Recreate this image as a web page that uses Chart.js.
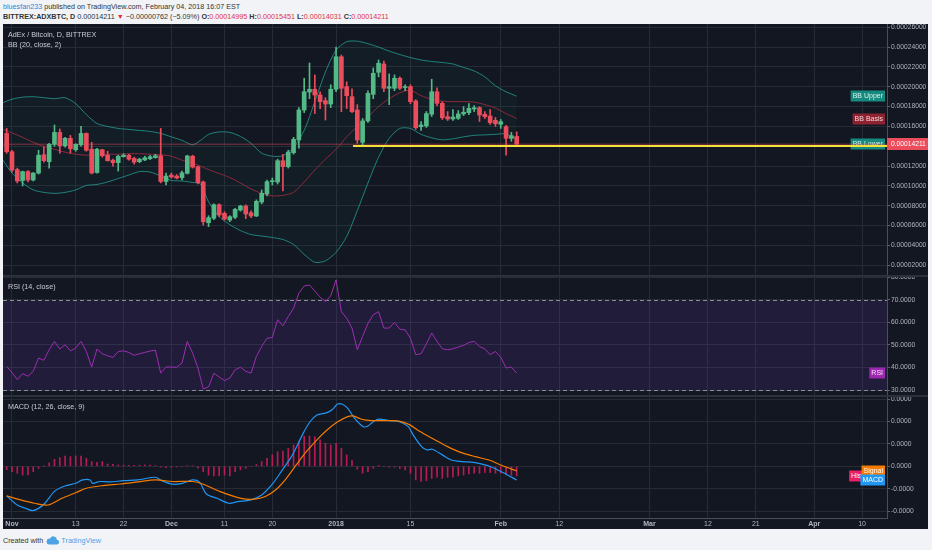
<!DOCTYPE html>
<html>
<head>
<meta charset="utf-8">
<script src="https://cdn.jsdelivr.net/npm/chart.js"></script>
<style>
  html, body { margin: 0; padding: 0; width: 932px; height: 550px; overflow: hidden; background: #f1f3f6;
    font-family: "Liberation Sans", Arial, sans-serif; }
  .hdr { position: absolute; left: 3px; font-size: 7.2px; color: #333; white-space: nowrap; line-height: 9px; }
  .hdr .user { color: #2f86d6; }
  .hdr .dn { color: #e0313f; }
  #panel { position: absolute; left: 3px; top: 24px; width: 925px; height: 505px; background: #131722; overflow: hidden; }
  #panel canvas { position: absolute; left: 0; }
  .legend { position: absolute; left: 5px; font-size: 7.2px; color: #c9ccd4; white-space: nowrap; line-height: 9px; }
  .sep { position: absolute; left: 0; width: 925px; height: 2px; background: #2c303b; }
  #footer { position: absolute; left: 3px; top: 536px; font-size: 7.2px; color: #333; white-space: nowrap; line-height: 9px; }
  #footer .tv { color: #4ba3e6; }
  #footer svg { vertical-align: -2px; margin: 0 2px 0 3px; }
</style>
</head>
<body>
<div class="hdr" style="top:2px"><span class="user">bluesfan233</span> published on TradingView.com, February 04, 2018 16:07 EST</div>
<div class="hdr" style="top:12px"><b>BITTREX:ADXBTC, D</b> 0.00014211 <span class="dn">&#9660;</span> &minus;0.00000762 (&minus;5.09%) <b>O:</b><span class="dn">0.00014995</span> <b>H:</b><span class="dn">0.00015451</span> <b>L:</b><span class="dn">0.00014031</span> <b>C:</b><span class="dn">0.00014211</span></div>

<div id="panel">
  <canvas id="mainChart" width="925" height="252" style="top:0"></canvas>
  <canvas id="rsiChart" width="925" height="120" style="top:252px"></canvas>
  <canvas id="macdChart" width="925" height="133" style="top:372px"></canvas>
  <div class="sep" style="top:251px"></div>
  <div class="sep" style="top:371px"></div>
  <div class="legend" style="top:6px">AdEx / Bitcoin, D, BITTREX</div>
  <div class="legend" style="top:16px">BB (20, close, 2)</div>
  <div class="legend" style="top:258px">RSI (14, close)</div>
  <div class="legend" style="top:378px">MACD (12, 26, close, 9)</div>
</div>

<div id="footer">Created with<svg width="13" height="9" viewBox="0 0 13 9"><path d="M3 8.5h7.5a2.4 2.4 0 0 0 .3-4.8A3.4 3.4 0 0 0 4.2 2.6 2.9 2.9 0 0 0 3 8.5z" fill="#4ba3e6"/></svg><span class="tv">TradingView</span></div>

<script>
// day index 0 = Nov 1, 2017; the first candle is Oct 31
const firstDay = -1;

// daily candles, in satoshi (1e-8 BTC)
const openSat = [15300,13450,11650,10550,11450,10600,11300,13150,12450,14200,
  15400,14050,14800,13650,14150,15300,13700,11350,13650,13100,
  12600,12350,12950,13100,12780,12450,12620,12750,12850,13050,
  10450,11100,11000,10830,11270,13000,11940,10400,6290,6740,
  8110,7240,6560,6840,7570,7980,7300,6970,8380,9190,
  10430,10400,12550,11940,13350,14630,17660,19470,19750,19170,
  18600,18260,19750,23030,20010,19000,17660,14400,16550,19240,
  21460,22300,19850,19850,20860,19920,20010,18570,15970,16050,
  17230,19500,18330,16990,16750,16820,17260,17390,17760,17890,
  17230,17050,16620,16220,15970,14800,14995];
const highSat = [15800,13600,11800,11500,11550,11350,13600,13950,14300,16150,
  15750,14900,15100,14250,16000,15350,14400,13800,13700,13500,
  12700,13100,13250,13200,12900,12800,13000,13100,13200,15800,
  11300,11300,11150,11500,13100,13100,12000,10500,7000,8200,
  8200,7400,7000,7750,8050,8100,7500,8600,9600,10600,
  10800,12700,13200,13600,14900,17900,20860,22400,21200,19500,
  18900,20200,24000,23200,20500,19800,18200,16800,19600,21900,
  22700,22600,21300,21200,21000,20200,20200,18700,16500,17500,
  20760,19900,18500,17500,17700,17600,18000,18300,18100,18000,
  17500,17700,16900,16700,16100,15400,15451];
const lowSat = [13300,11400,10300,10000,10400,10500,11200,12400,11800,14000,
  13300,13900,13300,13500,14000,13500,11200,11300,12900,12500,
  12000,11500,12900,12600,12200,12350,12550,12650,12800,10300,
  10100,10800,10700,10600,11200,11800,10200,6060,5900,6600,
  6900,6550,6400,6700,7450,6700,6800,6900,8200,9000,
  10100,10200,9500,11800,13200,13800,17400,18800,17300,17800,
  16650,17900,19500,17490,17800,17400,14300,14000,16400,18800,
  21000,19500,18200,19600,19700,19600,18300,15700,15600,15900,
  17000,18100,16700,16600,16600,16700,17100,17200,17500,16500,
  16800,16200,16000,15800,13100,14500,14031];
const closeSat = [13450,11600,10500,11450,10600,11300,13100,12550,14200,15400,
  14050,14800,13750,14200,15300,13600,11300,13700,13050,12550,
  12350,13000,13100,12700,12400,12700,12850,12950,13050,10450,
  11000,10900,10800,11330,13020,11900,10330,6390,6800,8110,
  7070,6670,6900,7640,7980,7170,6970,8450,9260,10430,
  10500,12550,11950,13420,14700,17660,19500,19750,19170,18500,
  18260,19750,23030,19850,19100,17490,14630,16550,19340,21360,
  22370,19850,20010,20860,19850,20010,18500,15870,16150,17290,
  19500,18330,16880,16750,16950,17260,17430,17830,17890,17150,
  16980,16380,16280,16480,14800,15070,14211];

// Bollinger Bands (20, close, 2), satoshi
const bbDays = [-1.7,0,2,4,6,8,10,12,14,16,18,20,22,24,26,28,30,32,34,35.5,
  37,39,41,43,45,47,49,51,53,55,57,59,61,63,65,67,69,71,73,75,
  77,79,81,83,85,87,89,91,93,95];
const bbUpper = [18400,18750,18950,19000,18900,18800,18900,18300,17200,16300,
  16000,15800,15700,15600,15500,15300,14950,14600,14150,14600,
  15200,15450,15400,15000,14300,13300,13000,13050,13900,15600,
  18500,21500,23700,24550,24600,24350,24000,23600,23250,22950,
  22700,22550,22450,22300,21950,21600,21000,20100,19500,19050];
const bbBasis = [15700,15350,14900,14400,14000,13700,13400,13200,13100,13150,
  13200,13200,13250,13250,13200,13150,13000,12600,12300,12000,
  11650,11250,10850,10300,9700,9250,9000,9050,9350,10400,
  11600,12700,13700,14950,16000,16950,18000,18800,19400,19650,
  19100,18750,18550,18500,18500,18450,18200,17850,17300,16800];
const bbLower = [12600,11300,10300,9600,9350,9250,9350,9600,10050,10150,
  10400,10750,11100,11450,11400,11000,10550,10500,10350,10200,
  8400,6900,6100,5500,5100,4950,4800,4600,4100,3100,
  2300,2450,3300,4900,7500,10300,12900,14800,15800,15800,
  15200,14850,14650,14750,14950,15100,15150,15200,15250,14650];

// user drawn horizontal line
const trendStartDay = 64.2;
const trendPrice = 14030;

// RSI (14, close), one value per candle
const rsiValues = [40.5,37.8,34.6,37.3,36.1,38.3,44.2,43.2,47.9,51.6,
  48.2,50.1,47.4,48.6,51.6,47.1,40.2,48.2,46.1,45.2,
  44.5,47.1,47.4,46.7,45.4,46.1,46.7,47.3,47.7,37.5,
  40.2,40.2,40.1,42.0,51.6,46.4,39.8,30.5,31.4,37.5,
  35.8,34.2,35.3,39.0,40.1,38.3,37.5,44.9,49.3,53.0,
  53.3,61.2,58.5,62.6,66.3,73.0,76.2,76.6,74.0,71.2,
  69.3,71.8,78.9,64.8,61.9,57.5,47.9,53.8,59.6,63.4,
  64.8,57.5,57.5,60.0,57.0,56.7,53.0,45.7,46.1,50.5,
  55.3,51.6,48.3,47.9,48.3,49.1,49.8,51.1,51.6,49.3,
  48.3,45.7,47.1,44.6,39.8,40.2,37.5];
const rsiUpper = 70;
const rsiLower = 30;

// MACD (12, 26, close, 9) in units of 1e-5 BTC
const macdUnit = 1e-5;
const macdDays = [-1,1,2.6,3.9,5,6.2,8.1,10,12,13.3,14.7,15.2,16.5,18.5,21,23.7,27,28.2,30.2,32.1,
  34,35.3,36.6,38.6,40.8,42.5,45,47,49,50.9,52.8,54.8,56.1,57.4,59.3,60.3,61.3,62.2,63.2,64.5,
  66.1,67,68,69,71,72.9,74.6,75.5,77.1,78.1,79.1,81,82.7,84.6,86.5,88.5,90.4,92.4,95];
const macdValues = [-1.32,-1.73,-1.88,-1.98,-1.88,-1.65,-1.10,-0.88,-0.76,-0.61,-0.61,-0.76,-0.68,-0.70,-0.64,-0.61,-0.49,-0.64,-0.80,-0.76,
  -0.61,-0.71,-1.24,-1.43,-1.65,-1.58,-1.50,-1.28,-0.80,-0.16,0.51,1.47,1.99,2.29,2.40,2.54,2.78,2.77,2.59,2.14,
  1.77,1.80,1.99,2.11,2.04,1.99,1.77,1.40,0.88,0.73,0.76,0.51,0.28,0.21,0.19,0.10,-0.04,-0.28,-0.61];
const signalDays = [-1,1.6,4.2,6.8,9.4,12,14,17.2,20.4,23.7,27,30.2,34,36,39.2,43.1,45.7,47.7,49.6,51.5,
  53.5,55.4,57.4,59.3,61.3,63.2,64.2,65.8,67.7,71,72.9,74.9,76.8,79.4,82,84.6,87.2,89.8,92,95];
const signalValues = [-1.32,-1.50,-1.65,-1.73,-1.43,-1.18,-0.98,-0.86,-0.79,-0.70,-0.61,-0.68,-0.68,-0.80,-1.13,-1.43,-1.47,-1.35,-1.06,-0.58,
  0.06,0.65,1.18,1.62,1.99,2.22,2.25,2.10,2.04,2.04,2.02,1.85,1.55,1.21,0.88,0.61,0.43,0.28,0.06,-0.21];
const histValues = [-0.15,-0.24,-0.31,-0.39,-0.39,-0.24,-0.09,0.02,0.16,0.31,
  0.39,0.46,0.43,0.46,0.46,0.36,0.21,0.18,0.21,0.10,
  0.09,0.06,0.05,0.04,0.04,0.05,0.06,0.05,0.03,-0.04,
  -0.06,-0.05,-0.03,0.00,0.03,0.02,-0.08,-0.24,-0.39,-0.43,
  -0.42,-0.39,-0.43,-0.24,-0.16,-0.09,-0.02,0.08,0.21,0.36,
  0.51,0.65,0.68,0.80,0.95,1.10,1.35,1.35,1.32,1.18,
  1.03,0.95,1.03,0.80,0.51,0.25,-0.13,-0.31,-0.24,-0.09,
  0.04,0.00,-0.04,-0.04,-0.10,-0.16,-0.31,-0.61,-0.68,-0.64,
  -0.54,-0.49,-0.54,-0.49,-0.49,-0.43,-0.39,-0.34,-0.31,-0.31,
  -0.28,-0.28,-0.31,-0.31,-0.39,-0.40,-0.43];

// axes
const xMin = -1.69, xMax = 164.7;
const xTickDays = [0, 12, 21, 30, 40, 49, 61, 75, 92, 103, 120, 131, 140, 151, 160];
const xTickLabels = ['Nov', '13', '22', 'Dec', '11', '20', '2018', '15', 'Feb', '12', 'Mar', '12', '21', 'Apr', '10'];
const boldLabels = ['Nov', 'Dec', '2018', 'Feb', 'Mar', 'Apr'];
const priceTicks = [2000,4000,6000,8000,10000,12000,14000,16000,18000,20000,22000,24000,26000];
const priceMin = 920, priceMax = 26330;
const rsiTicks = [30, 40, 50, 60, 70, 80];
const rsiMin = 27.35, rsiMax = 80.62;
const macdTicks = [-2, -1, 0, 1, 2, 3];
const macdMin = -2.31, macdMax = 3.14;

const upColor = '#53b987', downColor = '#eb4d5c';
const gridColor = '#272b36';
const axisColor = '#4a4e59';
const textColor = '#b2b5be';

Chart.defaults.font.family = '"Liberation Sans", Arial, sans-serif';
Chart.defaults.font.size = 6.7;

const days = openSat.map((_, k) => firstDay + k);
const candleColors = closeSat.map((c, k) => c >= openSat[k] ? upColor : downColor);
const lastOf = a => a[a.length - 1];

function drawTag(ctx, text, right, yMid, bg, fg) {
  ctx.save();
  ctx.font = '7px "Liberation Sans", Arial, sans-serif';
  const w = ctx.measureText(text).width + 4;
  ctx.fillStyle = bg;
  ctx.fillRect(right - w, Math.round(yMid) - 5.5, w, 11);
  ctx.fillStyle = fg;
  ctx.textBaseline = 'middle';
  ctx.fillText(text, right - w + 2, Math.round(yMid) + 0.5);
  ctx.restore();
}

function xScale(showLabels) {
  return {
    type: 'linear', min: xMin, max: xMax, offset: false,
    afterBuildTicks: s => { s.ticks = xTickDays.map(v => ({ value: v })); },
    afterFit: s => { s.height = showLabels ? 11 : 0; s.paddingLeft = 0; s.paddingRight = 0; },
    grid: { color: gridColor, drawTicks: false, offset: false },
    border: { display: showLabels, color: axisColor },
    ticks: {
      display: showLabels, autoSkip: false, maxRotation: 0, padding: 2, color: textColor,
      callback: (v, i) => xTickLabels[i],
      font: c => ({ size: 7, weight: boldLabels.includes(xTickLabels[c.index]) ? 'bold' : 'normal' })
    }
  };
}

function yScale(min, max, tickList, fmt) {
  return {
    position: 'right', min: min, max: max,
    afterBuildTicks: s => { s.ticks = tickList.map(v => ({ value: v })); },
    afterFit: s => { s.width = 41; s.paddingTop = 0; s.paddingBottom = 0; },
    grid: { color: gridColor, tickColor: '#5d606b', tickLength: 3 },
    border: { color: axisColor },
    ticks: { color: textColor, padding: 1, callback: fmt }
  };
}

const baseOptions = {
  responsive: false, animation: false, events: [],
  layout: { padding: 0 },
  plugins: { legend: { display: false }, tooltip: { enabled: false } }
};

// ---------- price pane ----------
const mainTags = {
  id: 'mainTags',
  beforeDatasetsDraw(chart) {
    const y = chart.scales.y, r = chart.chartArea.right - 2, ctx = chart.ctx;
    drawTag(ctx, 'BB Upper', r, y.getPixelForValue(lastOf(bbUpper)), '#168a7e', '#d9efec');
    drawTag(ctx, 'BB Basis', r, y.getPixelForValue(lastOf(bbBasis)), '#8e2230', '#f3d6da');
    drawTag(ctx, 'BB Lower', r, y.getPixelForValue(lastOf(bbLower)) + 4, '#168a7e', '#d9efec');
  },
  afterDraw(chart) {
    const ctx = chart.ctx, a = chart.chartArea;
    const py = Math.round(chart.scales.y.getPixelForValue(lastOf(closeSat)));
    ctx.save();
    ctx.fillStyle = downColor;
    ctx.fillRect(a.right, py - 6, 41, 12);
    ctx.fillStyle = '#ffffff';
    ctx.font = '6.7px "Liberation Sans", Arial, sans-serif';
    ctx.textBaseline = 'middle';
    ctx.fillText((lastOf(closeSat) / 1e8).toFixed(8), a.right + 4, py + 0.5);
    ctx.restore();
  }
};

new Chart(document.getElementById('mainChart'), {
  type: 'bar',
  data: {
    datasets: [
      { type: 'line', order: 6, data: bbDays.map((d, k) => ({ x: d, y: bbUpper[k] })),
        borderColor: 'rgba(38,166,154,0.75)', borderWidth: 1, pointRadius: 0, tension: 0.25, fill: false },
      { type: 'line', order: 6, data: bbDays.map((d, k) => ({ x: d, y: bbLower[k] })),
        borderColor: 'rgba(38,166,154,0.75)', borderWidth: 1, pointRadius: 0, tension: 0.25,
        fill: '-1', backgroundColor: 'rgba(38,166,154,0.04)' },
      { type: 'line', order: 5, data: bbDays.map((d, k) => ({ x: d, y: bbBasis[k] })),
        borderColor: '#8e2a3c', borderWidth: 1, pointRadius: 0, tension: 0.25, fill: false },
      { type: 'line', order: 4, data: [{ x: xMin, y: lastOf(closeSat) }, { x: xMax, y: lastOf(closeSat) }],
        borderColor: 'rgba(235,77,92,0.5)', borderWidth: 1, pointRadius: 0, fill: false },
      { order: 3, grouped: false, barThickness: 1, data: days.map((d, k) => ({ x: d, y: [lowSat[k], highSat[k]] })),
        backgroundColor: candleColors },
      { order: 2, grouped: false, barThickness: 4, minBarLength: 1,
        data: days.map((d, k) => ({ x: d, y: [openSat[k], closeSat[k]] })), backgroundColor: candleColors },
      { type: 'line', order: 1, data: [{ x: trendStartDay, y: trendPrice }, { x: xMax, y: trendPrice }],
        borderColor: '#f2e23a', borderWidth: 2, pointRadius: 0, fill: false }
    ]
  },
  options: Object.assign({}, baseOptions, {
    scales: {
      x: xScale(false),
      y: yScale(priceMin, priceMax, priceTicks, v => (v / 1e8).toFixed(8))
    }
  }),
  plugins: [mainTags]
});

// ---------- RSI pane ----------
const rsiBand = {
  id: 'rsiBand',
  beforeDatasetsDraw(chart) {
    const ctx = chart.ctx, a = chart.chartArea, y = chart.scales.y;
    const top = Math.round(y.getPixelForValue(rsiUpper)) + 0.5;
    const bot = Math.round(y.getPixelForValue(rsiLower)) + 0.5;
    ctx.save();
    ctx.fillStyle = 'rgba(110,60,200,0.15)';
    ctx.fillRect(a.left, top, a.right - a.left, bot - top);
    ctx.strokeStyle = '#8c8f99';
    ctx.lineWidth = 1;
    ctx.setLineDash([4, 3]);
    [top, bot].forEach(py => {
      ctx.beginPath(); ctx.moveTo(a.left, py); ctx.lineTo(a.right, py); ctx.stroke();
    });
    ctx.restore();
  },
  afterDatasetsDraw(chart) {
    drawTag(chart.ctx, 'RSI', chart.chartArea.right - 2, chart.scales.y.getPixelForValue(lastOf(rsiValues)), '#9c27b0', '#f3e5f5');
  }
};

new Chart(document.getElementById('rsiChart'), {
  type: 'line',
  data: {
    datasets: [{ data: days.map((d, k) => ({ x: d, y: rsiValues[k] })),
      borderColor: '#9c2fb0', borderWidth: 1, pointRadius: 0, tension: 0, fill: false }]
  },
  options: Object.assign({}, baseOptions, {
    scales: {
      x: xScale(false),
      y: yScale(rsiMin, rsiMax, rsiTicks, v => v.toFixed(4))
    }
  }),
  plugins: [rsiBand]
});

// ---------- MACD pane ----------
const macdTags = {
  id: 'macdTags',
  afterDatasetsDraw(chart) {
    const y = chart.scales.y, r = chart.chartArea.right - 2, ctx = chart.ctx;
    drawTag(ctx, 'Histogram', r, y.getPixelForValue(lastOf(histValues)), '#e91e63', '#ffffff');
    drawTag(ctx, 'Signal', r, y.getPixelForValue(lastOf(signalValues)), '#f57c00', '#ffffff');
    drawTag(ctx, 'MACD', r, y.getPixelForValue(lastOf(macdValues)), '#2196f3', '#ffffff');
  }
};

new Chart(document.getElementById('macdChart'), {
  type: 'bar',
  data: {
    datasets: [
      { order: 3, grouped: false, barThickness: 1, data: days.map((d, k) => ({ x: d, y: histValues[k] })),
        backgroundColor: 'rgba(214,28,92,0.85)' },
      { type: 'line', order: 2, data: macdDays.map((d, k) => ({ x: d, y: macdValues[k] })),
        borderColor: '#2196f3', borderWidth: 1.2, pointRadius: 0, tension: 0.3, fill: false },
      { type: 'line', order: 1, data: signalDays.map((d, k) => ({ x: d, y: signalValues[k] })),
        borderColor: '#f57c00', borderWidth: 1.2, pointRadius: 0, tension: 0.3, fill: false }
    ]
  },
  options: Object.assign({}, baseOptions, {
    scales: {
      x: xScale(true),
      y: yScale(macdMin, macdMax, macdTicks, v => (v * macdUnit).toFixed(4))
    }
  }),
  plugins: [macdTags]
});
</script>
</body>
</html>
